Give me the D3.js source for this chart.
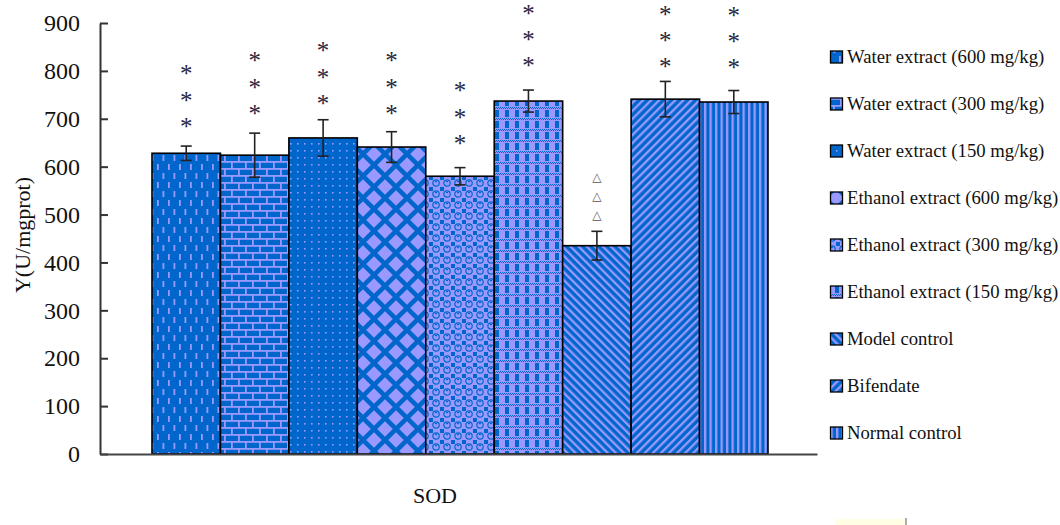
<!DOCTYPE html>
<html><head><meta charset="utf-8">
<script src="https://cdn.jsdelivr.net/npm/d3@7/dist/d3.min.js"></script>
<style>body{margin:0;background:#fff}svg{display:block}
.serif{font-family:"Liberation Serif","DejaVu Serif","Noto Serif",serif}</style>
</head><body>
<svg id="c" width="1060" height="525"></svg>
<script>
// ---- data ----
const categories = ["Water extract (600 mg/kg)","Water extract (300 mg/kg)","Water extract (150 mg/kg)",
  "Ethanol extract (600 mg/kg)","Ethanol extract (300 mg/kg)","Ethanol extract (150 mg/kg)",
  "Model control","Bifendate","Normal control"];
const values = [628, 624, 660, 641, 580, 737, 435, 741, 735];
const errors = [15, 46, 38, 32, 18, 23, 30, 37, 24];
const markSymbols = ["*","*","*","*","*","*","△","*","*"];
const markCounts = [3,3,3,3,3,3,3,3,3];
const markBaseValue = [691, 718, 739, 718, 656, 818, 501, 816, 814]; // value at the lowest mark
const yTicks = [0,100,200,300,400,500,600,700,800,900];
const xLabel = "SOD";
const yLabel = "Y(U/mgprot)";

// ---- setup ----
const svg = d3.select("#c");
const D = "#0066CC", L = "#9999FF";
const defs = svg.append("defs");
function pat(id, w, h, draw, transform, bg) {
  const p = defs.append("pattern").attr("id", id).attr("patternUnits", "userSpaceOnUse")
    .attr("width", w).attr("height", h);
  if (transform) p.attr("patternTransform", transform);
  p.append("rect").attr("width", w).attr("height", h).attr("fill", bg || D);
  draw(p);
}
function r(p, x, y, w, h, c) { p.append("rect").attr("x", x).attr("y", y).attr("width", w).attr("height", h).attr("fill", c || L); }
// 1 vertical dashes
pat("p0", 11, 18, p => { r(p, 3, 2, 1.8, 6); r(p, 8.5, 11, 1.8, 6); });
// 2 brick
pat("p1", 14, 14, p => { r(p, 0, 0, 14, 1.8); r(p, 0, 7, 14, 1.8); r(p, 0, 0, 1.8, 7); r(p, 7, 7, 1.8, 7); });
// 3 small dots
pat("p2", 7, 7, p => { r(p, 3, 3, 1.6, 1.6); });
// 4 diamonds
pat("p3", 22, 22, p => {
  const h = 7.8;
  [[11,11],[0,0],[22,0],[0,22],[22,22]].forEach(([cx,cy]) =>
    p.append("path").attr("d", `M${cx},${cy-h}L${cx+h},${cy}L${cx},${cy+h}L${cx-h},${cy}Z`).attr("fill", L));
});
// 5 bubbles
pat("p4", 11, 11, p => {
  r(p, 0, 0, 4, 4, D);
  p.append("circle").attr("cx", 7).attr("cy", 7).attr("r", 3.2).attr("fill", L).attr("stroke", D).attr("stroke-width", 1.2);
  r(p, 6, 5, 2, 1.2, D);
}, null, L);
// 6 plaid
pat("p5", 10, 11, p => {
  r(p, 5, 0, 4, 7, D);
  for (let i = 0; i < 10; i += 2) { r(p, i, 8, 1, 1, D); r(p, i + 1, 9, 1, 1, D); }
}, null, L);
// 7 "\" stripes
pat("p6", 5.7, 5.7, p => { r(p, 0, 0, 2.3, 5.7); }, "rotate(-45)");
// 8 "/" stripes
pat("p7", 5.7, 5.7, p => { r(p, 0, 0, 2.3, 5.7); }, "rotate(45)");
// 9 vertical stripes
pat("p8", 5.5, 10, p => { r(p, 0, 0, 2.3, 10); });

// ---- scales ----
const y = d3.scaleLinear().domain([0, 900]).range([454, 23]);
const x = d3.scaleBand().domain(categories).range([152, 768]).padding(0);
const xOuter = d3.scaleLinear().domain([0, 1]).range([100, 817]);

// bars
svg.append("g").selectAll("rect").data(categories).join("rect")
  .attr("x", d => x(d)).attr("y", (d, i) => y(values[i]))
  .attr("width", x.bandwidth()).attr("height", (d, i) => y(0) - y(values[i]))
  .attr("fill", (d, i) => `url(#p${i})`).attr("stroke", "#000").attr("stroke-width", 1.6);

// error bars
const eg = svg.append("g").attr("stroke", "#222").attr("stroke-width", 1.6).attr("fill", "none");
categories.forEach((c, i) => {
  const cx = x(c) + x.bandwidth() / 2;
  const t = y(values[i] + errors[i]), b = y(values[i] - errors[i]);
  eg.append("line").attr("x1", cx).attr("x2", cx).attr("y1", t).attr("y2", b);
  eg.append("line").attr("x1", cx - 5.5).attr("x2", cx + 5.5).attr("y1", t).attr("y2", t);
  eg.append("line").attr("x1", cx - 5.5).attr("x2", cx + 5.5).attr("y1", b).attr("y2", b);
});

// significance marks
const mg = svg.append("g");
categories.forEach((c, i) => {
  const cx = x(c) + x.bandwidth() / 2;
  const isStar = markSymbols[i] === "*";
  const step = isStar ? (y(0) - y(55)) : (y(0) - y(39));
  for (let k = 0; k < markCounts[i]; k++) {
    const cy = y(markBaseValue[i]) - k * step;
    if (isStar) {
      mg.append("text").attr("class", "serif").attr("x", cx).attr("y", cy + 12).attr("text-anchor", "middle")
        .attr("font-size", 25).attr("fill", "#2a2540").text("*");
    } else {
      mg.append("text").attr("x", cx).attr("y", cy + 4.5).attr("text-anchor", "middle")
        .attr("font-family", "'DejaVu Sans',sans-serif").attr("font-size", 12).attr("fill", "#555").text("△");
    }
  }
});

// y axis
const ya = svg.append("g").attr("transform", "translate(100,0)")
  .call(d3.axisLeft(y).tickValues(yTicks).tickSizeInner(-8).tickSizeOuter(0).tickPadding(20));
ya.selectAll("path,line").attr("stroke", "#333").attr("stroke-width", 2);
ya.attr("font-family", null);
ya.selectAll("text").attr("class", "serif").attr("font-size", 24).attr("fill", "#111");

// x axis
const xa = svg.append("g").attr("transform", "translate(0,454)")
  .call(d3.axisBottom(xOuter).tickValues([]).tickSizeOuter(0));
xa.select("path").attr("stroke", "#444").attr("stroke-width", 2);

// axis titles
svg.append("text").attr("class", "serif").attr("x", 435).attr("y", 503).attr("text-anchor", "middle")
  .attr("font-size", 22).attr("fill", "#111").text(xLabel);
svg.append("text").attr("class", "serif").attr("transform", "translate(30,235) rotate(-90)").attr("text-anchor", "middle")
  .attr("font-size", 22).attr("fill", "#111").text(yLabel);

// legend
const lg = svg.append("g");
categories.forEach((c, i) => {
  const cy = 57 + i * 47;
  lg.append("rect").attr("x", 830.5).attr("y", cy - 6).attr("width", 12).attr("height", 12)
    .attr("fill", `url(#p${i})`).attr("stroke", "#000").attr("stroke-width", 1.3);
  lg.append("text").attr("class", "serif").attr("x", 847).attr("y", cy + 6)
    .attr("font-size", 18.7).attr("fill", "#111").text(c);
});

// small artifact at bottom
svg.append("rect").attr("x", 835).attr("y", 519).attr("width", 71).attr("height", 6).attr("fill", "#fffde3");
svg.append("line").attr("x1", 906).attr("x2", 906).attr("y1", 518).attr("y2", 525).attr("stroke", "#777").attr("stroke-width", 1.2);
</script>
</body></html>
